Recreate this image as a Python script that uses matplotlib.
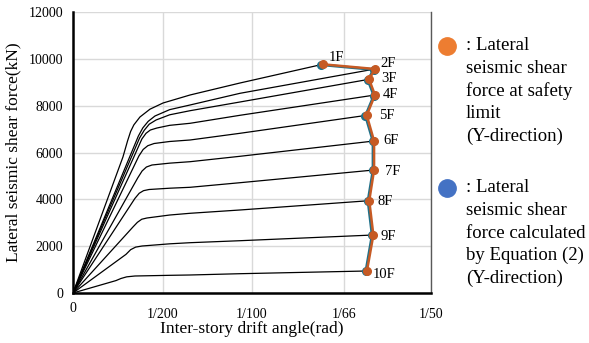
import matplotlib.pyplot as plt
from matplotlib.lines import Line2D

# story labels
floors = ["1F", "2F", "3F", "4F", "5F", "6F", "7F", "8F", "9F", "10F"]

# lateral seismic shear force at safety limit (Y-direction)
safety_drift = [0.01395, 0.01687, 0.01654, 0.01687, 0.01641, 0.01682, 0.01682, 0.01655, 0.01678, 0.01642]
safety_force = [9767, 9566, 9126, 8455, 7589, 6491, 5253, 3942, 2477, 940]

# lateral seismic shear force calculated by Equation (2)
eq2_drift = [0.01388, 0.01681, 0.01647, 0.01681, 0.01634, 0.01676, 0.01676, 0.01648, 0.01671, 0.01636]
eq2_force = [9745, 9540, 9100, 8430, 7570, 6480, 5240, 3930, 2468, 932]

# pushover curve of each story (between origin and the safety limit point)
curve_drift = [
    [0.00279, 0.00305, 0.00322, 0.00340, 0.00374, 0.00430, 0.00503, 0.00654, 0.00933],
    [0.00365, 0.00390, 0.00420, 0.00458, 0.00540, 0.00654, 0.00933],
    [0.00372, 0.00398, 0.00426, 0.00464, 0.00540, 0.00654, 0.00933],
    [0.00385, 0.00408, 0.00432, 0.00469, 0.00540, 0.00654, 0.00933],
    [0.00368, 0.00392, 0.00418, 0.00453, 0.00540, 0.00654, 0.00933],
    [0.00362, 0.00386, 0.00410, 0.00441, 0.00540, 0.00654, 0.00933],
    [0.00346, 0.00370, 0.00394, 0.00425, 0.00540, 0.00654, 0.00933],
    [0.00335, 0.00360, 0.00384, 0.00413, 0.00540, 0.00654, 0.00933],
    [0.00296, 0.00322, 0.00350, 0.00386, 0.00540, 0.00654, 0.00933],
    [0.00240, 0.00268, 0.00300, 0.00346, 0.00540, 0.00654, 0.00933],
]
curve_force = [
    [5808, 6500, 6900, 7180, 7516, 7850, 8114, 8456, 8968],
    [6700, 7050, 7330, 7559, 7830, 8029, 8528],
    [6620, 6950, 7210, 7388, 7610, 7785, 8157],
    [6580, 6820, 6960, 7046, 7160, 7247, 7589],
    [5850, 6130, 6290, 6384, 6470, 6534, 6820],
    [4920, 5210, 5380, 5466, 5545, 5607, 5838],
    [4040, 4260, 4370, 4420, 4475, 4514, 4710],
    [2820, 3020, 3150, 3203, 3330, 3404, 3545],
    [1650, 1850, 1960, 2007, 2100, 2148, 2233],
    [530, 620, 690, 726, 755, 769, 824],
]

x_ticks = [0, 1 / 200, 1 / 100, 1 / 66, 1 / 50]
x_tick_labels = ["", "1/200", "1/100", "1/66", "1/50"]
y_ticks = [0, 2000, 4000, 6000, 8000, 10000, 12000]

# label offsets in pixels (dx, dy)
label_dx = [6, 5, 12, 8, 12, 9, 11, 8, 7, 6]
label_dy = [7, 5, 1, 1, 0, 1, -2, -1, -2, -4]

serif = ["Liberation Serif", "DejaVu Serif"]
plt.rcParams["font.family"] = serif

fig = plt.figure(figsize=(5.89, 3.43), dpi=100)
ax = fig.add_axes([73 / 589, 1 - 293 / 343, (431 - 73) / 589, (293 - 12) / 343])

# black pushover curves
for i in range(len(floors)):
    xs = [0] + curve_drift[i] + [safety_drift[i]]
    ys = [0] + curve_force[i] + [safety_force[i]]
    ax.plot(xs, ys, color="black", lw=0.9, zorder=3)

ax.plot(eq2_drift, eq2_force, color="#1E7089", lw=2.0, marker="o", ms=5.5,
        markerfacecolor="#1E7089", markeredgecolor="#1E7089", zorder=4)
ax.plot(safety_drift, safety_force, color="#C65A24", lw=1.8, marker="o", ms=5.5,
        markerfacecolor="#C65A24", markeredgecolor="#C65A24", zorder=5)

for i, lab in enumerate(floors):
    ax.annotate(lab, (safety_drift[i], safety_force[i]),
                xytext=(label_dx[i] * 0.72, label_dy[i] * 0.72), textcoords="offset points",
                ha="left", va="center", fontsize=10.5, zorder=6)

ax.set_xlim(0, 0.02)
ax.set_ylim(0, 12000)
ax.set_xticks(x_ticks)
ax.set_xticklabels(x_tick_labels)
ax.set_yticks(y_ticks)
ax.tick_params(length=0, labelsize=10)
ax.tick_params(axis="x", pad=11)
ax.tick_params(axis="y", pad=7)
ax.text(0, -0.055, "0", transform=ax.get_xaxis_transform(), ha="center", va="center", fontsize=10)

ax.grid(True, color="#D9D9D9", lw=1.0, zorder=0)
ax.set_axisbelow(True)
ax.spines["top"].set_visible(False)
ax.spines["left"].set_linewidth(1.8)
ax.spines["bottom"].set_linewidth(1.8)
ax.spines["right"].set_color("#595959")
ax.spines["right"].set_linewidth(1.0)

ax.set_xlabel("Inter-story drift angle(rad)", fontsize=12.5, labelpad=0)
ax.set_ylabel("Lateral seismic shear force(kN)", fontsize=12.5, labelpad=5)

# legend drawn by hand on the right side
legend_items = [
    ("#ED7D31", 46, [": Lateral", "seismic shear", "force at safety", "limit", "(Y-direction)"]),
    ("#4472C4", 188, [": Lateral", "seismic shear", "force calculated", "by Equation (2)", "(Y-direction)"]),
]
for color, top_px, lines in legend_items:
    fig.add_artist(Line2D([447 / 589], [1 - top_px / 343], marker="o", ms=12.5,
                          color=color, transform=fig.transFigure))
    for k, line in enumerate(lines):
        fig.text(466 / 589, 1 - (top_px + k * 22.6) / 343, line, ha="left", va="center", fontsize=13.5)

plt.savefig("out.png", dpi=100)
